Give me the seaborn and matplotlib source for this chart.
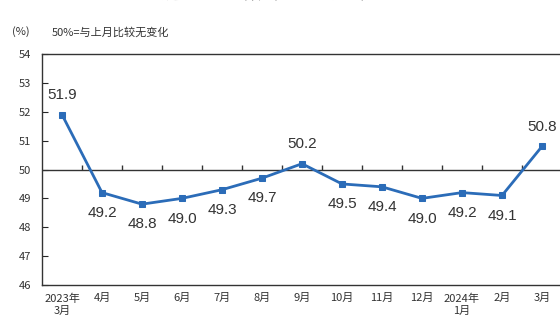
import matplotlib
matplotlib.use('Agg')
import matplotlib.pyplot as plt
import seaborn as sns
import pandas as pd

# Daten
months = ['2023年\n3月', '4月', '5月', '6月', '7月', '8月', '9月',
          '10月', '11月', '12月', '2024年\n1月', '2月', '3月']
pmi = [51.9, 49.2, 48.8, 49.0, 49.3, 49.7, 50.2, 49.5, 49.4, 49.0, 49.2, 49.1, 50.8]
label_above = [True, False, False, False, False, False, True,
               False, False, False, False, False, True]

df = pd.DataFrame({'pos': range(len(months)), 'PMI': pmi})

sns.set_style('white')
plt.rcParams['font.family'] = ['Noto Sans CJK SC', 'DejaVu Sans']

fig = plt.figure(figsize=(5.6, 3.19), dpi=100)
ax = fig.add_axes([42 / 560, 34 / 319, 520 / 560, 231 / 319])

blue = '#2b6cb8'
sns.lineplot(x='pos', y='PMI', data=df, ax=ax, color=blue, linewidth=2,
             marker='s', markersize=5, markeredgecolor=blue, markerfacecolor=blue)

# Referenzlinie 50 mit kleinen Strichen zwischen den Monaten
ax.axhline(50, color='#333333', linewidth=1, zorder=1)
bounds = [i + 0.5 for i in range(len(months) - 1)]
ax.vlines(bounds, 50, 50.17, color='#333333', linewidth=1, zorder=1)

# Werte beschriften
for i, (v, up) in enumerate(zip(pmi, label_above)):
    ax.annotate(f'{v:.1f}', (i, v), xytext=(0, 14 if up else -14.5),
                textcoords='offset points', ha='center', va='center',
                fontsize=11, color='#333333',
                family=['Liberation Sans', 'DejaVu Sans'])

ax.set_xlim(-0.5, len(months) - 0.5)
ax.set_ylim(46, 54)
ax.set_yticks(range(46, 55))
ax.set_xticks(range(len(months)))
ax.set_xticklabels(months, fontsize=8, color='#333333', linespacing=1.3)
ax.tick_params(axis='y', direction='in', length=4, width=0.8, labelsize=8,
               pad=8, labelcolor='#333333', left=True)
ax.tick_params(axis='x', length=0, pad=6)
ax.set_xlabel('')
ax.set_ylabel('')
for s in ax.spines.values():
    s.set_color('#333333')
    s.set_linewidth(1)

fig.text(12 / 560, 1 - 32 / 319, '(%)', fontsize=8, color='#333333', va='center')
fig.text(52 / 560, 1 - 32 / 319, '50%=与上月比较无变化', fontsize=8,
         color='#333333', va='center')
fig.text(0.47, 1.021, '制造业PMI指数（经季节调整）', fontsize=12,
         color='#555555', ha='center', va='center')

fig.savefig('out.png', dpi=100)
